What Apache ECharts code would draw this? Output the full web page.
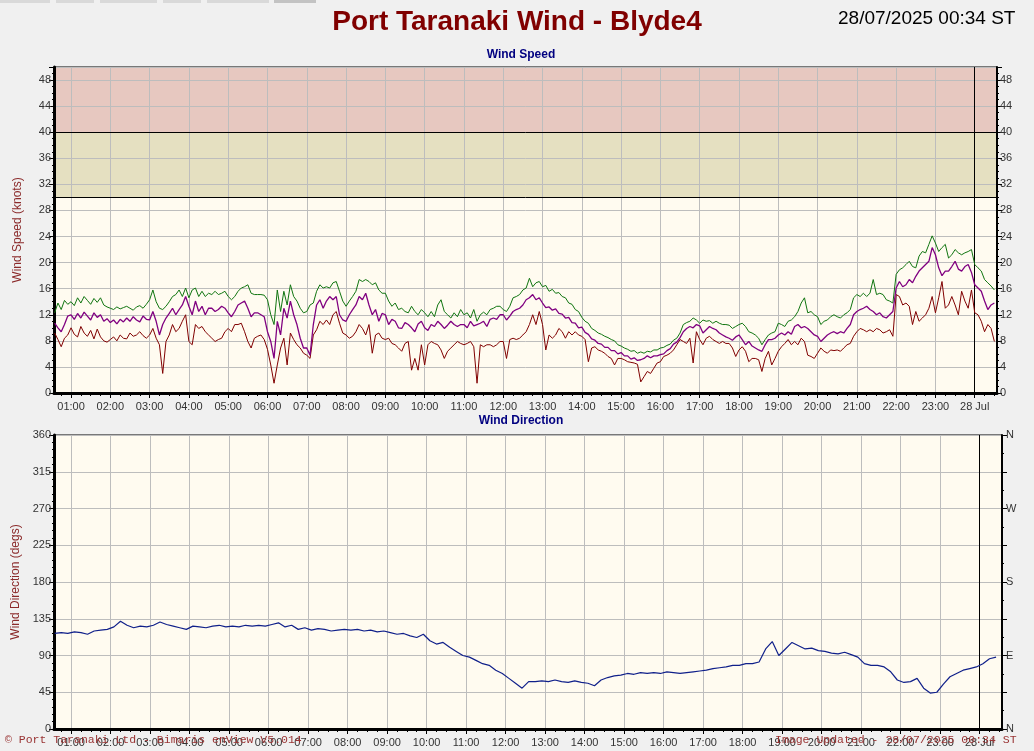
<!DOCTYPE html>
<html><head><meta charset="utf-8">
<script src="https://cdn.jsdelivr.net/npm/echarts@6/dist/echarts.min.js"></script>
<style>html,body{margin:0;padding:0;background:#F0F0F0}#c{width:1034px;height:751px}</style>
</head><body><div id="c"></div>
<script>
// ---- time base: minutes after 27/07/2025 00:00 ----
const axisMinMinute = 34;      // 27 Jul 00:34
const axisMaxMinute = 1474;    // 28 Jul 00:34
const speedStartMinute = 35;   // first wind speed sample 00:35
const speedStepMinutes = 5;
const dirStartMinute = 35;     // first direction sample 00:35
const dirStepMinutes = 10;

const hourLabels = ['01:00','02:00','03:00','04:00','05:00','06:00','07:00','08:00','09:00','10:00','11:00','12:00',
  '13:00','14:00','15:00','16:00','17:00','18:00','19:00','20:00','21:00','22:00','23:00','28 Jul'];
const speedTickValues = [0,4,8,12,16,20,24,28,32,36,40,44,48];
const dirTickValues = [0,45,90,135,180,225,270,315,360];
const compassValues = [0,90,180,270,360];
const compassNames = ['N','E','S','W','N'];

// Wind gust (green), knots, 5-minute samples
const gust = [
 12.3,13.8,12.8,14.2,13.6,
 14.0,13.4,14.6,13.8,14.8,14.2,13.6,14.5,13.9,14.6,13.5,13.2,
 13.0,12.8,13.2,12.9,13.1,13.3,13.0,12.7,13.2,13.4,13.0,13.6,
 14.3,15.8,14.0,13.0,12.8,13.3,14.0,14.8,15.1,15.8,14.8,16.1,
 14.6,15.8,16.1,14.8,15.6,14.8,15.3,15.1,15.6,15.1,15.3,15.6,
 14.8,14.3,14.8,15.6,16.1,16.3,16.6,15.3,15.1,15.1,15.1,15.0,
 14.3,12.0,10.5,15.8,12.5,15.6,13.5,16.6,14.8,14.1,13.0,12.3,
 12.5,13.5,13.8,15.6,16.6,16.1,16.3,16.1,16.9,17.1,15.6,14.1,
 13.3,14.1,14.8,15.6,17.4,17.1,17.4,
 17.1,16.6,16.9,15.8,15.3,
 15.3,14.1,13.3,13.8,12.8,13.0,12.5,12.3,13.3,12.5,12.0,12.8,
 12.3,11.7,12.5,11.7,13.5,14.3,12.5,12.0,11.5,12.3,11.7,12.8,
 12.0,12.3,11.5,12.8,11.0,12.0,12.4,12.0,12.8,13.0,13.3,13.3,
 12.8,12.5,13.3,14.6,14.8,15.1,15.8,16.1,17.6,16.3,16.9,17.1,
 16.3,16.5,15.6,15.9,15.3,15.4,14.8,14.6,13.8,13.6,12.8,12.5,
 11.6,11.0,10.7,9.9,9.6,9.2,9.0,8.7,8.5,8.2,8.0,7.4,
 7.2,6.9,6.7,6.4,6.5,6.1,6.3,6.1,6.4,6.3,6.6,6.6,
 6.9,7.0,7.3,7.5,8.1,8.4,9.2,
 10.5,10.8,11.0,11.5,11.2,
 10.7,11.2,11.0,11.1,10.7,11.0,10.7,10.5,10.5,10.4,9.9,10.2,
 10.5,10.7,10.2,9.4,9.2,8.9,8.4,7.4,8.2,8.9,9.2,9.4,
 10.7,10.5,10.2,11.0,11.2,11.7,12.5,13.8,14.6,12.3,12.5,12.0,
 11.7,10.5,11.0,11.2,11.7,12.0,11.7,11.5,12.0,12.3,12.8,14.6,
 15.1,14.8,15.3,14.8,15.3,17.4,15.1,15.3,15.1,14.3,14.1,13.8,
 18.2,18.9,19.2,19.7,20.2,19.4,19.2,21.0,21.7,21.5,22.8,24.1,
 23.0,21.7,22.3,22.8,20.7,21.2,22.0,21.5,21.2,21.5,21.7,22.0,
 19.7,19.2,18.7,17.4,16.9,16.4,15.8
];
// Mean wind speed (purple)
const mean = [
 10.7,10.0,9.4,10.5,11.8,
 12.0,11.3,12.2,11.5,12.4,11.8,11.2,12.3,11.6,12.0,11.0,11.4,
 10.8,11.2,10.6,11.3,10.9,11.5,11.0,11.7,11.2,10.9,11.8,11.3,
 11.2,12.5,11.0,8.9,10.5,11.5,12.2,13.0,12.0,12.8,13.5,14.8,
 13.3,12.0,14.1,12.5,13.3,12.0,13.0,13.0,12.5,12.8,13.3,13.0,
 12.3,11.7,12.5,13.5,13.8,14.1,13.0,11.7,12.3,12.3,12.0,11.7,
 9.4,7.9,5.3,11.0,8.9,13.0,11.5,14.1,12.0,10.5,8.4,6.9,
 6.9,5.8,10.5,13.5,14.3,13.0,14.1,14.8,14.3,14.8,12.0,11.2,
 11.0,12.0,12.8,13.5,14.8,14.3,15.3,
 13.5,12.0,12.8,11.0,12.2,
 12.0,10.5,11.3,11.0,10.0,9.9,10.8,10.5,10.0,9.4,10.6,11.0,
 10.0,9.6,10.5,10.2,11.0,10.5,9.9,10.4,11.0,10.5,10.2,10.5,
 10.5,10.0,11.0,10.3,10.5,10.7,11.0,10.2,11.3,11.5,11.3,12.0,
 12.0,11.2,11.8,12.5,12.8,13.0,13.5,14.3,14.6,15.1,14.3,14.6,
 13.8,13.1,13.2,12.7,12.9,12.2,12.1,11.5,11.6,10.8,10.7,10.0,
 10.1,9.3,9.0,8.3,8.1,7.6,7.5,7.0,7.0,6.5,6.5,6.0,
 6.2,5.7,5.7,5.2,5.4,5.0,5.1,5.3,5.7,5.4,5.7,5.7,
 5.9,6.0,6.5,6.8,7.5,7.8,8.5,
 9.4,9.9,10.2,10.0,10.5,
 10.3,9.2,9.7,10.2,9.9,9.7,9.2,8.9,8.6,8.4,8.1,8.6,
 8.9,8.2,7.4,7.9,7.2,6.9,6.6,6.4,7.4,8.2,8.2,8.4,
 8.9,9.2,8.9,9.4,9.0,10.2,10.5,10.0,10.2,9.9,9.4,8.9,
 8.7,7.9,8.4,8.9,9.2,9.4,9.1,9.4,9.2,9.9,10.5,12.0,
 12.5,12.8,13.0,13.3,12.8,12.5,12.0,12.3,11.7,11.5,12.0,12.5,
 16.1,17.1,16.3,16.6,17.4,16.9,17.9,18.7,19.2,19.7,20.2,22.3,
 21.2,19.2,18.0,18.7,18.7,19.4,20.2,19.0,18.7,19.4,19.7,18.5,
 16.6,16.1,15.6,14.1,12.8,13.5,13.8
];
// Minimum / lull wind speed (dark red)
const lull = [
 9.2,8.2,7.1,8.4,8.9,
 10.0,9.0,8.6,10.2,9.2,8.7,9.6,8.3,9.8,8.6,8.0,7.8,
 8.2,8.6,8.0,8.9,8.4,8.3,9.2,8.7,8.9,9.4,8.8,8.4,
 8.9,9.9,8.4,7.4,3.0,7.9,8.9,10.5,9.4,9.9,11.0,12.0,
 7.9,7.4,10.5,9.9,10.2,9.4,8.9,8.4,7.9,8.2,8.4,9.4,
 9.9,9.4,10.5,10.5,10.7,9.4,7.9,6.9,8.4,8.7,8.9,8.2,
 6.7,4.3,1.5,4.3,6.9,8.4,4.3,9.2,8.2,7.4,6.9,6.1,
 5.8,5.3,8.9,9.7,11.0,10.5,11.2,10.5,12.0,12.5,10.7,9.2,
 8.9,8.4,8.7,9.4,10.5,9.9,8.9,
 10.5,6.1,8.9,9.2,8.4,
 8.2,8.4,7.6,7.4,6.9,6.4,7.6,7.9,3.5,5.3,3.5,7.4,
 4.3,7.4,7.9,7.6,7.4,6.6,5.3,6.4,6.9,7.4,7.9,7.6,
 7.4,7.6,7.9,7.1,1.5,7.4,7.1,7.4,7.4,7.1,7.4,7.9,
 7.9,5.3,8.2,8.4,8.2,8.4,8.9,9.4,10.5,12.0,10.5,12.5,
 10.5,6.6,8.9,8.4,8.9,9.9,9.4,8.4,9.4,8.9,9.4,8.9,
 8.7,8.2,4.8,6.9,7.1,6.6,6.4,6.1,5.6,5.3,4.3,5.3,
 5.3,5.1,4.8,4.7,4.6,4.4,1.7,2.5,3.3,3.0,3.8,4.6,
 4.8,5.6,5.8,6.1,6.6,7.4,8.2,
 7.9,7.6,8.4,4.6,9.4,
 8.2,7.4,8.4,8.7,8.2,7.9,7.6,7.9,7.6,7.6,6.9,5.6,
 6.6,7.1,6.4,4.8,5.3,5.3,5.1,3.3,5.3,6.4,4.3,5.3,
 6.4,7.1,7.6,8.2,7.4,7.9,7.4,8.4,7.9,5.8,5.6,5.3,
 6.1,6.9,6.4,6.1,6.6,6.5,6.6,6.4,6.9,7.4,7.6,8.7,
 9.4,9.9,9.7,9.4,9.7,9.4,9.9,9.7,9.2,9.4,9.7,8.7,
 15.1,14.8,13.5,13.8,13.3,10.5,12.5,11.0,11.5,12.0,13.0,14.8,
 12.3,14.6,17.1,13.0,13.5,14.8,13.5,12.0,15.6,14.1,13.0,15.8,
 12.3,12.0,11.0,9.4,10.5,9.9,7.9
];
// Wind direction, degrees, 10-minute samples
const direction = [
 117,118,117,
 119,118,116,120,121,122,
 125,132,127,124,126,125,
 127,131,128,126,124,122,
 126,125,124,126,127,125,
 126,125,127,126,127,126,
 128,130,125,127,122,124,
 121,123,122,120,121,122,
 121,122,120,121,119,120,
 118,116,117,114,112,116,
 108,104,106,100,95,90,
 88,84,80,78,72,68,
 62,56,50,58,58,59,
 58,60,58,57,59,57,
 56,53,60,63,65,66,
 68,67,69,68,69,68,
 70,69,68,69,70,71,
 72,74,75,76,78,78,
 80,80,82,98,107,90,
 98,106,102,98,99,96,
 95,93,92,94,91,88,
 80,78,78,76,70,60,
 57,58,62,50,44,45,
 55,64,68,72,74,76,
 80,86,88
];

const FONT = '"Liberation Sans", Arial, sans-serif';
const hourTicks = hourLabels.map((_, i) => (i + 1) * 60);
const quarterTicks = [];
for (let m = 45; m <= 1470; m += 15) quarterTicks.push(m);

const toSeries = (arr, start, step) => arr.map((v, i) => [start + i * step, v]);
const AXIS_Z = 3;

function mainX(gridIndex) {
  return {
    gridIndex, type: 'value', min: axisMinMinute, max: axisMaxMinute, z: AXIS_Z,
    axisLine: { show: true, lineStyle: { color: '#000', width: 3 } },
    axisTick: { show: true, customValues: hourTicks, length: 5, lineStyle: { color: '#000' } },
    axisLabel: { customValues: hourTicks, color: '#333', fontSize: 11, fontFamily: FONT, margin: 8,
      formatter: v => hourLabels[Math.round(v / 60) - 1] },
    splitLine: { show: true, lineStyle: { color: '#BDBDBD', width: 1 } }
  };
}
function minorX(gridIndex) {
  return {
    gridIndex, type: 'value', min: axisMinMinute, max: axisMaxMinute, position: 'bottom', z: AXIS_Z,
    axisLine: { show: false },
    axisTick: { show: true, customValues: quarterTicks, length: 3, lineStyle: { color: '#000' } },
    axisLabel: { show: false }, splitLine: { show: false }
  };
}
const labelStyle = { color: '#333', fontSize: 11, fontFamily: FONT };

const option = {
  backgroundColor: '#F0F0F0',
  animation: false,
  textStyle: { fontFamily: FONT },
  grid: [
    { left: 54, top: 67, width: 943, height: 326, outerBoundsMode: 'none', containLabel: false,
      show: true, backgroundColor: 'transparent', borderColor: '#000', borderWidth: 1, z: AXIS_Z },
    { left: 54, top: 435, width: 948, height: 294, outerBoundsMode: 'none', containLabel: false,
      show: true, backgroundColor: 'transparent', borderColor: '#000', borderWidth: 1, z: AXIS_Z }
  ],
  xAxis: [mainX(0), minorX(0), mainX(1), minorX(1)],
  yAxis: [
    { gridIndex: 0, type: 'value', min: 0, max: 50, interval: 4, position: 'left', z: AXIS_Z,
      axisLine: { show: true, lineStyle: { color: '#000', width: 3 } },
      axisTick: { show: true, length: 5, lineStyle: { color: '#000' } },
      minorTick: { show: true, splitNumber: 4, length: 2, lineStyle: { color: '#000' } },
      axisLabel: Object.assign({ customValues: speedTickValues, margin: 3 }, labelStyle),
      splitLine: { show: true, lineStyle: { color: '#BDBDBD', width: 1 } },
      name: 'Wind Speed (knots)', nameLocation: 'middle', nameGap: 30,
      nameTextStyle: { color: '#8B2A2A', fontSize: 12, fontFamily: FONT } },
    { gridIndex: 0, type: 'value', min: 0, max: 50, interval: 4, position: 'right', z: AXIS_Z,
      axisLine: { show: true, lineStyle: { color: '#000', width: 2 } },
      axisTick: { show: true, length: 5, lineStyle: { color: '#000' } },
      minorTick: { show: true, splitNumber: 4, length: 2, lineStyle: { color: '#000' } },
      axisLabel: Object.assign({ customValues: speedTickValues, margin: 3 }, labelStyle),
      splitLine: { show: false } },
    { gridIndex: 1, type: 'value', min: 0, max: 360, interval: 45, position: 'left', z: AXIS_Z,
      axisLine: { show: true, lineStyle: { color: '#000', width: 3 } },
      axisTick: { show: true, length: 5, lineStyle: { color: '#000' } },
      minorTick: { show: true, splitNumber: 5, length: 2, lineStyle: { color: '#000' } },
      axisLabel: Object.assign({ customValues: dirTickValues, margin: 3 }, labelStyle),
      splitLine: { show: true, lineStyle: { color: '#BDBDBD', width: 1 } },
      name: 'Wind Direction (degs)', nameLocation: 'middle', nameGap: 30,
      nameTextStyle: { color: '#8B2A2A', fontSize: 12, fontFamily: FONT } },
    { gridIndex: 1, type: 'value', min: 0, max: 360, interval: 45, position: 'right', z: AXIS_Z,
      axisLine: { show: true, lineStyle: { color: '#000', width: 2 } },
      axisTick: { show: true, length: 5, lineStyle: { color: '#000' } },
      minorTick: { show: true, splitNumber: 2, length: 2, lineStyle: { color: '#000' } },
      axisLabel: Object.assign({ customValues: compassValues, margin: 4,
        formatter: v => compassNames[compassValues.indexOf(v)] }, labelStyle),
      splitLine: { show: false } }
  ],
  series: [
    { type: 'line', xAxisIndex: 0, yAxisIndex: 0, z: -1, silent: true, showSymbol: false,
      data: [[axisMinMinute, 0], [axisMaxMinute, 0]], lineStyle: { opacity: 0, width: 0 },
      markArea: { silent: true, z: -1, data: [
        [{ yAxis: 0, itemStyle: { color: '#FFFBF0' } }, { yAxis: 30 }],
        [{ yAxis: 30, itemStyle: { color: '#E5E0C1' } }, { yAxis: 40 }],
        [{ yAxis: 40, itemStyle: { color: '#E7C8C0' } }, { yAxis: 50 }]
      ] } },
    { type: 'line', xAxisIndex: 0, yAxisIndex: 0, z: 4, silent: true, showSymbol: false,
      data: [[axisMinMinute, 0], [axisMaxMinute, 0]], lineStyle: { opacity: 0, width: 0 },
      markLine: { silent: true, z: 4, symbol: ['none', 'none'], label: { show: false },
        lineStyle: { color: '#000', width: 1, type: 'solid' },
        data: [{ yAxis: 30 }, { yAxis: 40 }, { xAxis: 1440 }] } },
    { type: 'line', xAxisIndex: 2, yAxisIndex: 2, z: -1, silent: true, showSymbol: false,
      data: [[axisMinMinute, 0], [axisMaxMinute, 0]], lineStyle: { opacity: 0, width: 0 },
      markArea: { silent: true, z: -1, data: [[{ yAxis: 0, itemStyle: { color: '#FFFBF0' } }, { yAxis: 360 }]] } },
    { type: 'line', xAxisIndex: 2, yAxisIndex: 2, z: 4, silent: true, showSymbol: false,
      data: [[axisMinMinute, 0], [axisMaxMinute, 0]], lineStyle: { opacity: 0, width: 0 },
      markLine: { silent: true, z: 4, symbol: ['none', 'none'], label: { show: false },
        lineStyle: { color: '#000', width: 1, type: 'solid' }, data: [{ xAxis: 1440 }] } },
    { name: 'Gust', type: 'line', xAxisIndex: 0, yAxisIndex: 0, showSymbol: false, z: 5,
      data: toSeries(gust, speedStartMinute, speedStepMinutes), lineStyle: { color: '#107510', width: 1 } },
    { name: 'Lull', type: 'line', xAxisIndex: 0, yAxisIndex: 0, showSymbol: false, z: 5,
      data: toSeries(lull, speedStartMinute, speedStepMinutes), lineStyle: { color: '#800000', width: 1 } },
    { name: 'Mean', type: 'line', xAxisIndex: 0, yAxisIndex: 0, showSymbol: false, z: 6,
      data: toSeries(mean, speedStartMinute, speedStepMinutes), lineStyle: { color: '#800080', width: 1.3 } },
    { name: 'Direction', type: 'line', xAxisIndex: 2, yAxisIndex: 2, showSymbol: false, z: 5,
      data: toSeries(direction, dirStartMinute, dirStepMinutes), lineStyle: { color: '#10208A', width: 1.2 } }
  ],
  graphic: [
    { type: 'rect', shape: { x: 0, y: 0, width: 50, height: 3 }, style: { fill: '#D9D9D9' }, silent: true },
    { type: 'rect', shape: { x: 56, y: 0, width: 38, height: 3 }, style: { fill: '#D9D9D9' }, silent: true },
    { type: 'rect', shape: { x: 100, y: 0, width: 57, height: 3 }, style: { fill: '#D9D9D9' }, silent: true },
    { type: 'rect', shape: { x: 163, y: 0, width: 38, height: 3 }, style: { fill: '#D9D9D9' }, silent: true },
    { type: 'rect', shape: { x: 207, y: 0, width: 62, height: 3 }, style: { fill: '#D9D9D9' }, silent: true },
    { type: 'rect', shape: { x: 274, y: 0, width: 42, height: 3 }, style: { fill: '#C3C3C3' }, silent: true },
    { type: 'text', x: 517, y: 22, silent: true, style: { text: 'Port Taranaki Wind - Blyde4', font: 'bold 28px ' + FONT,
      fill: '#800000', textAlign: 'center', textVerticalAlign: 'middle' } },
    { type: 'text', x: 838, y: 19, silent: true, style: { text: '28/07/2025 00:34 ST', font: '19px ' + FONT,
      fill: '#000', textAlign: 'left', textVerticalAlign: 'middle' } },
    { type: 'text', x: 521, y: 55, silent: true, style: { text: 'Wind Speed', font: 'bold 12px ' + FONT,
      fill: '#000080', textAlign: 'center', textVerticalAlign: 'middle' } },
    { type: 'text', x: 521, y: 421, silent: true, style: { text: 'Wind Direction', font: 'bold 12px ' + FONT,
      fill: '#000080', textAlign: 'center', textVerticalAlign: 'middle' } },
    { type: 'text', x: 5, y: 740, silent: true, z: 100, style: { text: '\u00A9 Port Taranaki Ltd - Bimaris enView V5.014',
      font: '11.5px "Liberation Mono", "Courier New", monospace', fill: '#993333', textAlign: 'left', textVerticalAlign: 'middle' } },
    { type: 'text', x: 775, y: 740, silent: true, z: 100, style: { text: 'Image Updated - 28/07/2025 00:34 ST',
      font: '11.5px "Liberation Mono", "Courier New", monospace', fill: '#993333', textAlign: 'left', textVerticalAlign: 'middle' } }
  ]
};
const chart = echarts.init(document.getElementById('c'), null, { renderer: 'canvas' });
chart.setOption(option);
</script></body></html>
